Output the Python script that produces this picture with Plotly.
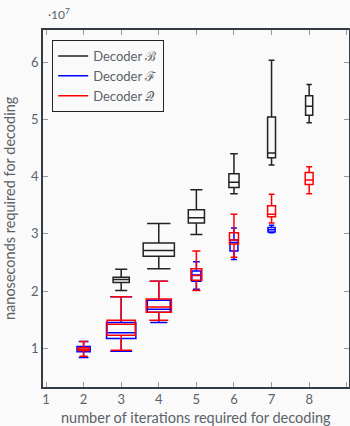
import plotly.graph_objects as go

# Decoder B (black)
b_x = [3, 4, 5, 6, 7, 8]
b_upper = [2.38, 3.18, 3.77, 4.40, 6.03, 5.61]
b_q3 = [2.24, 2.84, 3.42, 4.05, 5.04, 5.41]
b_median = [2.20, 2.71, 3.28, 3.90, 4.41, 5.23]
b_q1 = [2.15, 2.61, 3.19, 3.81, 4.33, 5.07]
b_lower = [2.01, 2.39, 2.99, 3.70, 4.20, 4.94]
b_width = [0.43, 0.83, 0.43, 0.27, 0.21, 0.19]

# Decoder F (blue)
f_x = [2, 3, 4, 5, 6, 7]
f_upper = [1.12, 1.90, 2.17, 2.51, 3.10, 3.15]
f_q3 = [1.03, 1.45, 1.84, 2.35, 2.89, 3.11]
f_median = [0.98, 1.27, 1.68, 2.28, 2.85, 3.07]
f_q1 = [0.94, 1.17, 1.63, 2.17, 2.70, 3.03]
f_lower = [0.84, 0.95, 1.45, 2.03, 2.55, 3.02]
f_width = [0.35, 0.78, 0.61, 0.24, 0.21, 0.19]

# Decoder Q (red)
q_x = [2, 3, 4, 5, 6, 7, 8]
q_upper = [1.12, 1.90, 2.17, 2.70, 3.34, 3.69, 4.17]
q_q3 = [1.01, 1.49, 1.86, 2.39, 3.02, 3.49, 4.07]
q_median = [0.98, 1.42, 1.72, 2.27, 2.89, 3.34, 3.94]
q_q1 = [0.96, 1.23, 1.63, 2.19, 2.82, 3.30, 3.86]
q_lower = [0.86, 0.965, 1.49, 2.01, 2.59, 3.19, 3.70]
q_width = [0.29, 0.75, 0.67, 0.29, 0.24, 0.21, 0.21]

x_ticks = [1, 2, 3, 4, 5, 6, 7, 8, 9]
y_ticks = [1, 2, 3, 4, 5, 6]

series = [
    ("Decoder ℬ", "#222222", b_x, b_upper, b_q3, b_median, b_q1, b_lower, b_width),
    ("Decoder ℱ", "#0000ff", f_x, f_upper, f_q3, f_median, f_q1, f_lower, f_width),
    ("Decoder 𝒬", "#ff0000", q_x, q_upper, q_q3, q_median, q_q1, q_lower, q_width),
]

FONT = "Lato"
TXT = "#5a6268"
fig = go.Figure()
for name, color, xs, up, q3, med, q1, lo, ws in series:
    for i in range(len(xs)):
        fig.add_trace(go.Box(
            x=[xs[i]], q1=[q1[i]], median=[med[i]], q3=[q3[i]],
            lowerfence=[lo[i]], upperfence=[up[i]],
            width=ws[i], whiskerwidth=0.75,
            line=dict(color=color, width=1.5),
            fillcolor="rgba(0,0,0,0)", boxpoints=False,
            showlegend=False, hoverinfo="skip",
        ))
for name, color, *_ in series:
    fig.add_trace(go.Scatter(x=[None], y=[None], mode="lines", name=name,
                             line=dict(color=color, width=1.5)))

axis_common = dict(showline=True, linecolor="#333c44", linewidth=1.5, mirror="ticks",
                   ticks="inside", ticklen=5, tickcolor="#999999", showgrid=False,
                   zeroline=False, automargin=False,
                   tickfont=dict(family=FONT, size=13, color=TXT))
fig.update_layout(
    width=350, height=426,
    margin=dict(l=43, r=1, t=30, b=39),
    paper_bgcolor="#fafafa", plot_bgcolor="#fafafa",
    boxmode="overlay",
    font=dict(family=FONT, color=TXT, size=13),
    xaxis=dict(range=[0.92, 9.06], tickvals=x_ticks, **axis_common),
    yaxis=dict(range=[0.324, 6.56], tickvals=y_ticks, **axis_common),
    legend=dict(x=0.03, y=0.972, xanchor="left", yanchor="top",
                bgcolor="#fafafa", bordercolor="#222222", borderwidth=1,
                font=dict(family=FONT, size=13, color=TXT),
                itemwidth=30, tracegroupgap=0),
    annotations=[
        dict(text="·10<sup>7</sup>", xref="paper", yref="paper",
             x=0.01, y=1.045, xanchor="left", yanchor="middle",
             showarrow=False, font=dict(family=FONT, size=12, color=TXT)),
        dict(text="number of iterations required for decoding", xref="paper", yref="paper",
             x=0.5, y=0, yshift=-20, xanchor="center", yanchor="top",
             showarrow=False, font=dict(family=FONT, size=14.5, color=TXT)),
        dict(text="nanoseconds required for decoding", xref="paper", yref="paper",
             x=0, xshift=-23, y=0.5, xanchor="right", yanchor="middle", textangle=-90,
             showarrow=False, font=dict(family=FONT, size=14.5, color=TXT)),
    ],
)
fig.write_html("out.html", config={"displayModeBar": False},
               post_script="document.body.style.margin='0';document.body.style.background='#fafafa';")
